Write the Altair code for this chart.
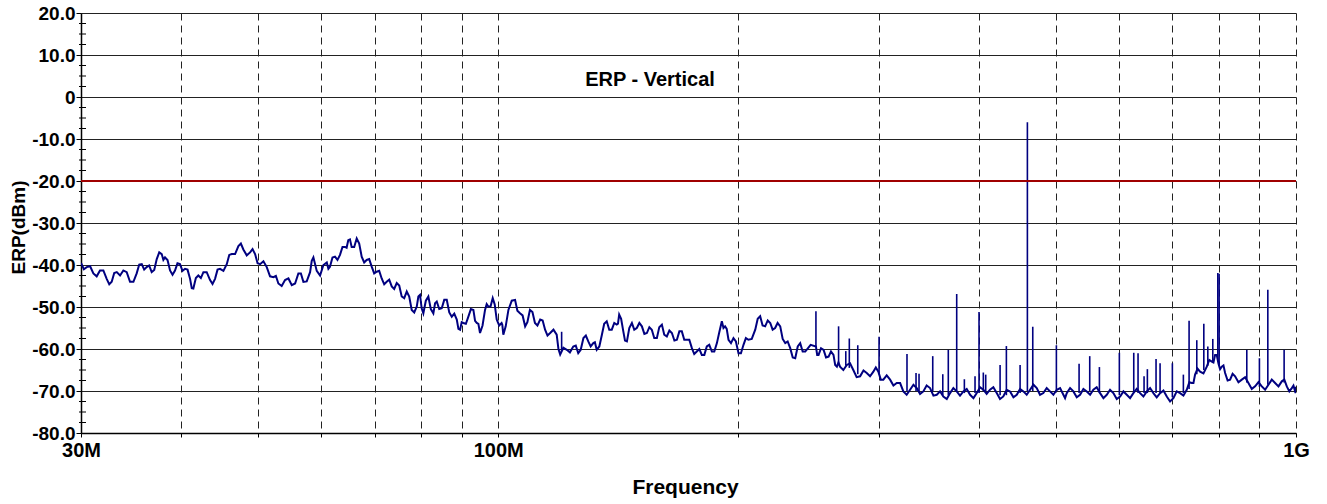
import altair as alt
import pandas as pd

PLOT_TITLE = "ERP - Vertical"
X_TITLE = "Frequency"
Y_TITLE = "ERP(dBm)"

FREQ_MHZ = [
    30.00, 30.50, 31.09, 31.69, 32.31, 32.78, 33.26, 33.90, 34.56, 35.23,
    35.75, 36.26, 36.79, 37.33, 37.87, 38.23, 38.79, 39.35, 39.92, 40.51,
    41.10, 41.49, 42.09, 42.71, 43.54, 44.17, 44.81, 45.69, 46.35, 47.25,
    47.93, 48.87, 49.58, 50.30, 51.28, 52.27, 53.03, 54.06, 55.12, 56.18,
    57.00, 58.11, 58.67, 59.81, 60.98,
    61.54, 62.44, 63.35, 64.27, 64.88, 65.52, 66.48, 67.44, 68.42, 69.42,
    70.43, 71.45, 72.49, 73.55, 74.62, 75.70, 76.81, 77.92, 79.06, 79.81,
    80.58, 81.75, 82.94, 83.76, 84.97, 86.21, 87.47, 88.74, 89.59, 90.44,
    91.76, 93.10, 94.01, 94.90, 96.28, 97.20, 98.44, 99.58, 101.0, 101.5,
    103.0, 105.0, 106.5, 108.1, 109.6, 111.2, 112.9, 114.5, 116.2, 118.4,
    119.6, 121.9, 124.2, 126.0,
    127.9, 129.7, 131.6, 132.9, 134.9, 136.8, 138.8, 140.8, 141.8, 143.5,
    145.0, 147.1, 149.2, 151.4, 153.6, 155.8, 158.1, 160.4, 162.7, 165.1,
    167.5, 169.9, 172.4, 174.9, 177.4, 180.0, 182.6, 185.3, 188.0, 190.7,
    192.5, 194.4, 197.2, 200.1, 203.0, 205.9, 210.0, 213.0, 216.1, 219.3,
    222.4, 225.7, 229.0, 232.3, 235.7, 239.1, 242.6, 250.2, 252.1, 255.8,
    259.5, 263.2, 265.8,
    268.2, 273.5, 278.7, 284.2, 289.7, 295.3, 299.6, 303.9, 309.9, 315.9,
    322.0, 328.3, 334.7, 341.1, 347.8, 354.6, 361.4, 368.5, 375.6, 382.9,
    390.4, 398.0, 405.6, 413.5, 421.6, 429.7, 438.1, 446.7, 455.3, 464.2,
    473.2, 482.3, 491.7, 501.4, 511.0,
    516.0, 526.0, 536.2, 546.7, 557.2, 568.1, 579.2, 590.3, 601.9, 613.6,
    625.4, 637.6, 650.1, 662.6, 675.5, 688.7, 702.0, 715.7, 729.6, 740.3,
    747.3, 758.2, 773.0, 784.3, 791.8, 799.3, 807.2, 815.0, 826.8, 838.8,
    855.2, 871.7, 888.7, 906.0, 923.5, 941.5, 959.9, 973.8, 988.0, 997.5,
    1000.0,
]

LEVEL_DBM = [
    -39.5, -40.5, -42.0, -41.3, -43.3, -44.0, -41.7, -41.3, -44.0, -42.0,
    -39.8, -40.5, -41.7, -38.6, -37.4, -38.2, -41.3, -41.3, -39.8, -40.9,
    -43.3, -45.6, -42.5, -41.7, -43.6, -43.3, -40.9, -39.8, -37.4, -35.5,
    -36.3, -37.0, -37.4, -39.8, -40.5, -42.9, -44.4, -43.6, -44.8, -42.0,
    -44.0, -41.7, -38.2, -42.5, -39.4,
    -40.4, -38.0, -37.6, -35.7, -34.1, -35.7, -33.7, -38.0, -38.8, -40.4,
    -41.6, -43.2, -44.0, -45.1, -44.3, -47.5, -46.3, -50.7, -49.9, -47.1,
    -51.5, -47.5, -51.5, -48.7, -50.3, -48.3, -52.3, -53.0, -55.4, -53.8,
    -52.3, -50.7, -53.8, -56.2, -50.7, -49.9, -47.9, -53.0, -53.8, -56.6,
    -50.7, -48.3, -51.5, -54.6, -50.7, -53.8, -53.0, -55.4, -56.2, -56.6,
    -61.3, -60.2, -59.4, -61.0,
    -57.4, -58.2, -58.6, -60.2, -56.6, -53.4, -55.4, -54.2, -51.8, -55.8,
    -58.2, -53.8, -55.0, -54.6, -56.2, -55.4, -57.4, -54.2, -57.0, -56.2,
    -57.8, -55.8, -57.8, -59.8, -60.6, -61.4, -59.4, -60.6, -58.6, -53.4,
    -54.6, -57.8, -57.4, -61.0, -59.0, -57.8, -55.4, -52.2, -54.6, -53.8,
    -55.0, -54.6, -58.6, -59.8, -62.2, -58.6, -60.6, -59.4, -61.4, -60.2,
    -61.8, -61.4, -64.2,
    -64.2, -63.8, -65.0, -66.5, -65.7, -65.4, -65.4, -67.3, -67.3, -68.1,
    -70.1, -69.7, -69.3, -70.1, -69.3, -70.9, -71.3, -70.5, -70.1, -70.1,
    -70.9, -70.5, -69.7, -69.7, -70.5, -71.3, -70.1, -70.9, -70.1, -69.7,
    -69.3, -70.5, -70.1, -69.7, -70.9,
    -70.5, -70.1, -70.9, -70.1, -69.7, -70.5, -70.9, -70.5, -71.3, -70.9,
    -70.5, -70.5, -70.1, -70.5, -70.5, -71.3, -71.7, -70.5, -69.7, -68.1,
    -66.1, -65.4, -64.2, -63.0, -61.4, -63.4, -64.2, -65.7, -67.3, -66.5,
    -67.3, -68.1, -68.9, -68.9, -68.5, -68.1, -67.7, -68.9, -69.3, -70.1,
    -69.0,
]

# in-between readings of the noise band of the trace
NOISE_FREQ = [
    30.25, 30.80, 31.39, 32.00, 32.55, 33.02, 33.58, 34.23, 34.90, 35.49,
    36.00, 36.52, 37.06, 37.60, 38.05, 38.51, 39.07, 39.63, 40.21, 40.80,
    41.30, 41.79, 42.40, 43.12, 43.85, 44.49, 45.25, 46.02, 46.80, 47.59,
    48.40, 49.22, 49.94, 50.79, 51.77, 52.65, 53.54, 54.59, 55.65, 56.59,
    57.55, 58.39, 59.24, 60.39, 61.26, 61.99, 62.89, 63.81, 64.57, 65.20,
    66.00, 66.96, 67.93, 68.92, 69.92, 70.94, 71.97, 73.02, 74.08, 75.16,
    76.25, 77.36, 78.49, 79.43, 80.19, 81.16, 82.34, 83.35, 84.36, 85.59,
    86.84, 88.10, 89.16, 90.01, 91.10, 92.43, 93.55, 94.45, 95.59, 96.74,
    97.82, 99.01, 100.3, 101.2, 102.2, 104.0, 105.7, 107.3, 108.8, 110.4,
    112.0, 113.7, 115.3, 117.3, 119.0, 120.7, 123.0, 125.1, 126.9, 128.8,
    130.6, 132.2, 133.9, 135.8, 137.8, 139.8, 141.3, 142.6, 144.2, 146.0,
    148.1, 150.3, 152.5, 154.7, 156.9, 159.2, 161.5, 163.9, 166.3, 168.7,
    171.1, 173.6, 176.1, 178.7, 181.3, 183.9, 186.6, 189.3, 191.6, 193.4,
    195.8, 198.6, 201.5, 204.4, 207.9, 211.5, 214.5, 217.7, 220.8, 224.0,
    227.3, 230.6, 234.0, 237.4, 240.8, 246.4, 251.1, 253.9, 257.6, 261.3,
    264.5, 267.0, 270.8, 276.1, 281.4, 287.0, 292.5, 297.4, 301.7, 306.9,
    312.9, 319.0, 325.1, 331.5, 337.9, 344.4, 351.2, 358.0, 365.0, 372.0,
    379.2, 386.6, 394.2, 401.8, 409.5, 417.5, 425.6, 433.9, 442.4, 451.0,
    459.7, 468.7, 477.7, 487.0, 496.5, 506.2, 513.5, 521.0, 531.1, 541.4,
    552.0, 562.6, 573.6, 584.7, 596.1, 607.7, 619.5, 631.5, 643.8, 656.3,
    669.0, 682.1, 695.3, 708.8, 722.6, 735.0, 743.8, 752.7, 765.6, 778.6,
    788.0, 795.5, 803.2, 811.1, 820.9, 832.8, 847.0, 863.4, 880.2, 897.3,
    914.7, 932.5, 950.7, 966.8, 980.9, 992.7, 998.7,
]
NOISE_DBM = [
    -41.0, -40.3, -42.7, -41.3, -44.6, -41.9, -42.5, -41.7, -44.0, -39.9,
    -41.1, -40.1, -41.2, -37.0, -38.8, -38.8, -42.3, -39.6, -41.4, -41.1,
    -45.5, -43.1, -43.1, -41.7, -44.5, -41.1, -41.4, -37.6, -37.4, -34.9,
    -37.7, -36.2, -39.6, -39.1, -42.7, -42.6, -45.0, -43.2, -44.4, -42.0,
    -43.9, -39.0, -41.4, -40.0, -40.9, -38.2, -38.8, -35.7, -35.9, -33.9,
    -35.7, -34.9, -39.4, -38.6, -42.0, -41.4, -44.6, -43.5, -45.7, -44.9,
    -47.9, -47.5, -51.3, -47.5, -50.3, -48.5, -50.5, -49.1, -50.5, -48.3,
    -51.3, -51.6, -55.2, -53.6, -54.0, -50.5, -53.3, -54.0, -54.4, -49.3,
    -49.9, -49.4, -54.4, -54.2, -54.6, -48.5, -50.9, -52.0, -53.6, -51.2,
    -54.4, -53.2, -56.8, -55.4, -60.0, -59.7, -60.8, -59.2, -60.2, -56.8,
    -59.4, -58.4, -59.4, -54.0, -55.4, -53.8, -54.0, -52.8, -58.0, -55.0,
    -55.4, -53.8, -56.4, -54.8, -57.4, -54.8, -56.6, -55.6, -58.0, -55.8,
    -57.8, -57.8, -61.2, -60.0, -61.4, -59.0, -60.6, -56.0, -55.0, -55.2,
    -58.6, -58.2, -61.0, -57.4, -57.6, -52.8, -54.4, -53.2, -55.4, -53.8,
    -57.6, -58.2, -62.0, -59.4, -60.6, -59.0, -61.4, -59.8, -62.0, -60.6,
    -63.8, -63.2, -65.0, -63.4, -66.7, -65.1, -66.5, -64.4, -67.3, -66.3,
    -68.7, -68.1, -70.9, -68.5, -70.7, -68.7, -71.1, -70.1, -71.9, -69.3,
    -71.1, -69.5, -71.7, -69.1, -70.7, -69.1, -71.9, -69.7, -71.5, -69.5,
    -70.9, -68.5, -70.9, -69.3, -70.9, -69.3, -71.7, -69.3, -71.5, -69.5,
    -70.9, -69.1, -71.7, -69.7, -71.9, -70.1, -71.7, -69.5, -71.3, -69.3,
    -71.5, -69.9, -72.5, -70.1, -71.1, -67.9, -68.1, -64.7, -65.8, -62.6,
    -63.2, -61.4, -64.8, -63.9, -67.5, -65.9, -67.9, -66.7, -69.5, -67.9,
    -69.7, -67.3, -68.9, -67.3, -70.1, -68.7, -70.5,
]

SPIKE_FREQ = [
    120.1, 250.2, 267.1, 272.7, 275.5, 282.3, 300.2, 325.4, 334.0, 336.9,
    350.5, 360.8, 366.6, 375.6, 384.0, 396.0, 400.6, 405.6, 408.4, 425.7,
    433.5, 451.0, 460.6, 467.8, 500.8, 534.7, 551.4, 567.0, 600.6, 626.1,
    633.9, 645.0, 651.2, 667.7, 675.5, 699.9, 722.5, 734.5, 751.0, 766.4,
    775.3, 786.5, 798.0, 801.0, 867.6, 899.8, 921.9, 966.3,
]
SPIKE_PEAK = [
    -55.9, -51.0, -54.6, -60.5, -57.5, -59.1, -57.1, -61.2, -65.7, -65.9,
    -61.7, -66.0, -60.2, -46.9, -67.2, -66.5, -51.2, -65.6, -66.1, -63.8,
    -59.3, -63.8, -6.0, -54.7, -59.1, -63.5, -61.7, -64.3, -60.9, -60.9,
    -61.0, -66.5, -64.8, -62.4, -63.4, -63.4, -66.1, -53.3, -57.9, -54.0,
    -59.4, -57.6, -41.9, -42.1, -60.2, -62.2, -45.9, -60.2,
]
SPIKE_BASE = [
    -60.5, -59.5, -63.5, -64.0, -64.5, -66.0, -66.0, -70.0, -70.0, -70.0,
    -70.0, -71.0, -71.0, -70.0, -70.5, -70.5, -70.5, -70.0, -70.0, -71.0,
    -71.0, -70.5, -70.0, -70.0, -70.0, -70.5, -70.0, -70.5, -71.0, -70.5,
    -70.5, -70.5, -70.5, -70.5, -70.5, -71.5, -70.5, -69.5, -66.0, -65.0,
    -64.0, -63.0, -63.0, -64.0, -68.0, -69.0, -68.5, -68.0,
]

LIMIT_DBM = [-20]
Y_MAJOR = [-80, -70, -60, -50, -40, -30, -20, -10, 0, 10, 20]
Y_MINOR = [-77.5, -75, -72.5, -67.5, -65, -62.5, -57.5, -55, -52.5,
           -47.5, -45, -42.5, -37.5, -35, -32.5, -27.5, -25, -22.5,
           -17.5, -15, -12.5, -7.5, -5, -2.5, 2.5, 5, 7.5, 12.5, 15, 17.5]
X_TICKS = [30, 40, 50, 60, 70, 80, 90, 100, 200, 300, 400, 500, 600,
           700, 800, 900, 1000]

FONT = "Liberation Sans"
TRACE = "#000080"

trace_df = pd.concat([
    pd.DataFrame({"freq": FREQ_MHZ, "dbm": LEVEL_DBM}),
    pd.DataFrame({"freq": NOISE_FREQ, "dbm": NOISE_DBM}),
]).sort_values("freq").reset_index(drop=True)
spike_df = pd.DataFrame({"freq": SPIKE_FREQ, "dbm": SPIKE_PEAK, "dbm2": SPIKE_BASE})
limit_df = pd.DataFrame({"dbm": LIMIT_DBM})
minor_df = pd.DataFrame({"dbm": Y_MINOR})
title_df = pd.DataFrame({"label": [PLOT_TITLE]})

x_scale = alt.Scale(type="log", domain=[30, 1000], nice=False)
y_scale = alt.Scale(domain=[-80, 20], nice=False, zero=False)

x_axis = alt.Axis(
    values=X_TICKS,
    labelExpr="datum.value == 30 ? '30M' : datum.value == 100 ? '100M' : datum.value == 1000 ? '1G' : ''",
    grid=True, gridDash=[7, 5], gridColor="#222222", gridWidth=1, gridOpacity=1,
    tickSize=4, tickColor="#000000", tickWidth=1,
    domainColor="#000000", domainWidth=1.5,
    labelFont=FONT, labelFontSize=20, labelFontWeight="bold", labelColor="#000000",
    labelPadding=3, labelFlush=False, labelOverlap=False,
    title=X_TITLE, titleFont=FONT, titleFontSize=21, titleFontWeight="bold",
    titleColor="#000000", titleX=604, titleY=54, titleAlign="center",
    titleBaseline="middle",
)
y_axis = alt.Axis(
    values=Y_MAJOR,
    labelExpr="datum.value == 0 ? '0' : (datum.value < 0 ? '-' : '') + format(abs(datum.value), '.1f')",
    grid=True, gridColor="#222222", gridWidth=1, gridOpacity=1,
    tickSize=5, tickColor="#000000", tickWidth=1,
    domainColor="#000000", domainWidth=1.5,
    labelFont=FONT, labelFontSize=19, labelFontWeight="bold", labelColor="#000000",
    labelPadding=1, labelOverlap=False, labelFlush=False,
    title=Y_TITLE, titleFont=FONT, titleFontSize=19, titleFontWeight="bold",
    titleColor="#000000", titleX=-63, titleY=214, titleAngle=270,
    titleAlign="center", titleBaseline="middle",
)

trace = alt.Chart(trace_df).mark_line(color=TRACE, strokeWidth=2.0, clip=True).encode(
    x=alt.X("freq:Q", scale=x_scale, axis=x_axis),
    y=alt.Y("dbm:Q", scale=y_scale, axis=y_axis),
)

spikes = alt.Chart(spike_df).mark_rule(color=TRACE, strokeWidth=1.6, clip=True).encode(
    x=alt.X("freq:Q", scale=x_scale),
    y=alt.Y("dbm:Q", scale=y_scale),
    y2="dbm2:Q",
)

limit = alt.Chart(limit_df).mark_rule(color="#A00000", strokeWidth=2).encode(
    y=alt.Y("dbm:Q", scale=y_scale),
)

minor = alt.Chart(minor_df).mark_rule(color="#000000", strokeWidth=1).encode(
    y=alt.Y("dbm:Q", scale=y_scale),
    x=alt.value(-2),
    x2=alt.value(5),
)

title_text = alt.Chart(title_df).mark_text(
    font=FONT, fontSize=20, fontWeight="bold", color="#000000",
    align="center", baseline="middle",
).encode(
    text="label:N",
    x=alt.value(569),
    y=alt.value(67),
)

chart = alt.layer(trace, spikes, limit, minor, title_text).properties(
    width=1215,
    height=420,
    autosize=alt.AutoSizeParams(type="none"),
    padding={"left": 81, "top": 13, "right": 31, "bottom": 71},
    background="#ffffff",
).configure_view(stroke=None)

chart.save("out.html", embed_options={"renderer": "svg", "actions": False})
